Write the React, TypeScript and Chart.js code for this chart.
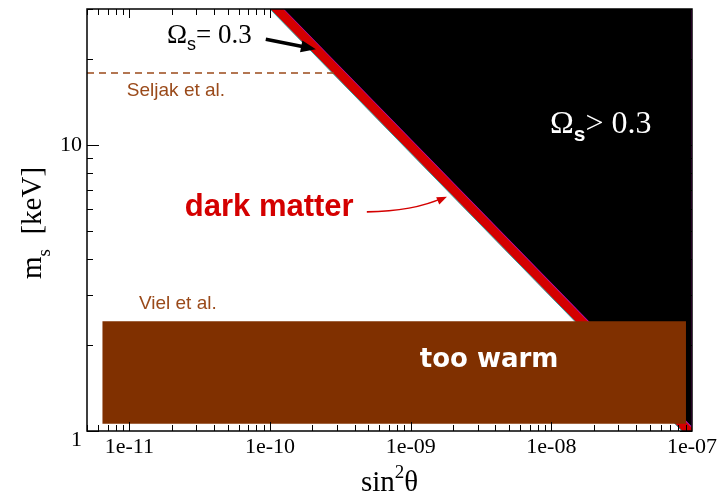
import { useEffect, useRef } from 'react';
import { Chart, registerables } from 'chart.js';

Chart.register(...registerables);

// ---- axes ----
const X_RANGE = [5e-12, 1e-7];
const Y_RANGE = [1, 30];
const X_TICKS = [1e-11, 1e-10, 1e-9, 1e-8, 1e-7];
const X_TICK_LABELS = ['1e-11', '1e-10', '1e-09', '1e-08', '1e-07'];
const Y_TICKS = [1, 10];
const Y_TICK_LABELS = ['1', '10'];
const X_MINOR_DECADES = [1e-12, 1e-11, 1e-10, 1e-9, 1e-8];
const Y_MINOR_DECADES = [1, 10];

// ---- regions (sin^2 theta, m_s) ----
// dark matter band (Omega_s = 0.3): left edge and right edge
const DM_LEFT_X = [1.0e-10, 8.5e-8];
const DM_LEFT_Y = [30, 1];
const DM_RIGHT_X = [1.24e-10, 1.05e-7];
const DM_RIGHT_Y = [30, 1];
// Omega_s > 0.3 excluded region
const OVER_X = [1.24e-10, 9.97e-8, 9.97e-8];
const OVER_Y = [30, 1.03, 30];
// "too warm" (Viel et al.)
const WARM_X = [6.44e-12, 9.06e-8, 9.06e-8, 6.44e-12];
const WARM_Y = [1.06, 1.06, 2.42, 2.42];
// Seljak et al. bound
const SELJAK_X = [5e-12, 2.89e-10];
const SELJAK_Y = [17.9, 17.9];

// ---- annotation anchors (data coords) ----
const OMEGA_EQ_AT = [1.85e-11, 22.8];
const OMEGA_GT_AT = [9.77e-9, 11.04];
const SELJAK_LABEL_AT = [9.6e-12, 14.9];
const VIEL_LABEL_AT = [1.17e-11, 2.68];
const WARM_LABEL_AT = [1.16e-9, 1.67];
const DM_LABEL_AT = [2.48e-11, 5.67];
const BLACK_ARROW = [[9.33e-11, 23.5], [2.12e-10, 21.7]];
const RED_ARROW = [[4.88e-10, 5.85], [1.04e-9, 5.87], [1.81e-9, 6.6]];

const zip = (xs: number[], ys: number[]) => xs.map((x, i) => ({ x, y: ys[i] }));

const SERIF = '"Liberation Serif", "Times New Roman", serif';
const SANS = '"Liberation Sans", Arial, sans-serif';
const BROWN_TEXT = '#9a4a1a';
const RED = '#d40000';

type Part = { text: string; font: string; color: string; dy?: number };

function richWidth(ctx: CanvasRenderingContext2D, parts: Part[]) {
  let w = 0;
  for (const p of parts) {
    ctx.font = p.font;
    w += ctx.measureText(p.text).width;
  }
  return w;
}

function drawRich(ctx: CanvasRenderingContext2D, x: number, y: number, parts: Part[]) {
  let cx = x;
  ctx.textAlign = 'left';
  ctx.textBaseline = 'alphabetic';
  for (const p of parts) {
    ctx.font = p.font;
    ctx.fillStyle = p.color;
    ctx.fillText(p.text, cx, y + (p.dy || 0));
    cx += ctx.measureText(p.text).width;
  }
}

function arrowHead(ctx: CanvasRenderingContext2D, tx: number, ty: number, fx: number, fy: number, len: number, half: number) {
  const ang = Math.atan2(ty - fy, tx - fx);
  ctx.beginPath();
  ctx.moveTo(tx, ty);
  ctx.lineTo(tx - len * Math.cos(ang) + half * Math.sin(ang), ty - len * Math.sin(ang) - half * Math.cos(ang));
  ctx.lineTo(tx - len * Math.cos(ang) - half * Math.sin(ang), ty - len * Math.sin(ang) + half * Math.cos(ang));
  ctx.closePath();
  ctx.fill();
}

const overlay = {
  id: 'overlay',
  afterDatasetsDraw(chart: any) {
    const { ctx, chartArea: a, scales } = chart;
    const xs = scales.x;
    const ys = scales.y;
    const px = (v: number) => xs.getPixelForValue(v);
    const py = (v: number) => ys.getPixelForValue(v);
    ctx.save();

    // labels
    drawRich(ctx, px(OMEGA_EQ_AT[0]), py(OMEGA_EQ_AT[1]), [
      { text: 'Ω', font: `27px ${SERIF}`, color: '#000' },
      { text: 's', font: `18px ${SANS}`, color: '#000', dy: 7 },
      { text: '= 0.3', font: `27px ${SERIF}`, color: '#000' },
    ]);
    drawRich(ctx, px(OMEGA_GT_AT[0]), py(OMEGA_GT_AT[1]), [
      { text: 'Ω', font: `32px ${SERIF}`, color: '#fff' },
      { text: 's', font: `bold 21px ${SANS}`, color: '#fff', dy: 8 },
      { text: '> 0.3', font: `32px ${SERIF}`, color: '#fff' },
    ]);
    drawRich(ctx, px(SELJAK_LABEL_AT[0]), py(SELJAK_LABEL_AT[1]), [
      { text: 'Seljak et al.', font: `19px ${SANS}`, color: BROWN_TEXT },
    ]);
    drawRich(ctx, px(VIEL_LABEL_AT[0]), py(VIEL_LABEL_AT[1]), [
      { text: 'Viel et al.', font: `19px ${SANS}`, color: BROWN_TEXT },
    ]);
    drawRich(ctx, px(WARM_LABEL_AT[0]), py(WARM_LABEL_AT[1]), [
      { text: 'too warm', font: `bold 26px "DejaVu Sans", sans-serif`, color: '#fff' },
    ]);
    drawRich(ctx, px(DM_LABEL_AT[0]), py(DM_LABEL_AT[1]), [
      { text: 'dark matter', font: `bold 31px ${SANS}`, color: RED },
    ]);

    // black arrow
    {
      const [t, h] = BLACK_ARROW;
      const x0 = px(t[0]), y0 = py(t[1]), x1 = px(h[0]), y1 = py(h[1]);
      ctx.strokeStyle = '#000';
      ctx.fillStyle = '#000';
      ctx.lineWidth = 3.5;
      const ang = Math.atan2(y1 - y0, x1 - x0);
      ctx.beginPath();
      ctx.moveTo(x0, y0);
      ctx.lineTo(x1 - 10 * Math.cos(ang), y1 - 10 * Math.sin(ang));
      ctx.stroke();
      arrowHead(ctx, x1, y1, x0, y0, 15, 6);
    }
    // red curved arrow
    {
      const [s, c, e] = RED_ARROW;
      const x0 = px(s[0]), y0 = py(s[1]);
      const cx = px(c[0]), cy = py(c[1]);
      const x1 = px(e[0]), y1 = py(e[1]);
      ctx.strokeStyle = RED;
      ctx.fillStyle = RED;
      ctx.lineWidth = 1.6;
      ctx.beginPath();
      ctx.moveTo(x0, y0);
      ctx.quadraticCurveTo(cx, cy, x1 - 4, y1 + 1);
      ctx.stroke();
      arrowHead(ctx, x1, y1, cx, cy, 10, 4);
    }

    // frame
    ctx.strokeStyle = '#000';
    ctx.lineWidth = 1.5;
    ctx.strokeRect(a.left, a.top, a.right - a.left, a.bottom - a.top);

    // inward ticks
    ctx.lineWidth = 1;
    ctx.beginPath();
    for (const d of X_MINOR_DECADES) {
      for (let m = 1; m <= 9; m++) {
        const v = d * m;
        if (v < X_RANGE[0] * 0.999 || v > X_RANGE[1] * 1.001) continue;
        const x = Math.round(px(v)) + 0.5;
        const len = m === 1 ? 9 : 6;
        ctx.moveTo(x, a.bottom);
        ctx.lineTo(x, a.bottom - len);
        ctx.moveTo(x, a.top);
        ctx.lineTo(x, a.top + len);
      }
    }
    for (const d of Y_MINOR_DECADES) {
      for (let m = 1; m <= 9; m++) {
        const v = d * m;
        if (v < Y_RANGE[0] * 0.999 || v > Y_RANGE[1] * 1.001) continue;
        const y = Math.round(py(v)) + 0.5;
        const len = m === 1 ? 12 : 6;
        ctx.moveTo(a.left, y);
        ctx.lineTo(a.left + len, y);
        ctx.moveTo(a.right, y);
        ctx.lineTo(a.right - len, y);
      }
    }
    ctx.stroke();
    ctx.restore();
  },
  afterDraw(chart: any) {
    const { ctx, chartArea: a } = chart;
    ctx.save();
    // x title
    const xParts: Part[] = [
      { text: 'sin', font: `29px ${SERIF}`, color: '#000' },
      { text: '2', font: `19px ${SERIF}`, color: '#000', dy: -13 },
      { text: 'θ', font: `29px ${SERIF}`, color: '#000' },
    ];
    const xw = richWidth(ctx, xParts);
    drawRich(ctx, (a.left + a.right) / 2 - xw / 2, 491, xParts);
    // y title
    const yParts: Part[] = [
      { text: 'm', font: `29px ${SERIF}`, color: '#000' },
      { text: 's', font: `19px ${SERIF}`, color: '#000', dy: 9 },
      { text: '  [keV]', font: `29px ${SERIF}`, color: '#000' },
    ];
    const yw = richWidth(ctx, yParts);
    ctx.translate(41, (a.top + a.bottom) / 2 + 3);
    ctx.rotate(-Math.PI / 2);
    drawRich(ctx, -yw / 2, 0, yParts);
    ctx.restore();
  },
};

export default function App() {
  const ref = useRef<HTMLCanvasElement | null>(null);
  useEffect(() => {
    document.body.style.margin = '0';
    const canvas = ref.current;
    if (!canvas) return;
    const band = [...zip(DM_LEFT_X, DM_LEFT_Y), ...zip(DM_RIGHT_X, DM_RIGHT_Y).reverse()];
    const common = { pointRadius: 0, tension: 0 };
    const chart = new Chart(canvas, {
      type: 'line',
      data: {
        datasets: [
          {
            label: 'Ωs > 0.3',
            data: zip(OVER_X, OVER_Y),
            fill: 'shape',
            backgroundColor: '#000',
            borderColor: '#b400b4',
            borderWidth: 1.2,
            order: 6,
            ...common,
          },
          {
            label: 'dark matter',
            data: band,
            fill: 'shape',
            backgroundColor: RED,
            borderColor: 'rgba(0,0,0,0)',
            borderWidth: 1,
            order: 5,
            ...common,
          },
          {
            label: 'edge',
            data: zip(DM_LEFT_X, DM_LEFT_Y),
            fill: false,
            borderColor: '#2f9f9f',
            borderWidth: 1,
            order: 4,
            ...common,
          },
          {
            label: 'too warm',
            data: zip(WARM_X, WARM_Y),
            fill: 'shape',
            backgroundColor: '#803000',
            borderColor: 'rgba(0,0,0,0)',
            borderWidth: 1,
            order: 3,
            ...common,
          },
          {
            label: 'Seljak et al.',
            data: zip(SELJAK_X, SELJAK_Y),
            fill: false,
            borderColor: BROWN_TEXT,
            borderWidth: 1.5,
            borderDash: [7, 5],
            order: 2,
            ...common,
          },
        ],
      },
      options: {
        animation: false,
        responsive: false,
        devicePixelRatio: 1,
        events: [],
        layout: { padding: { top: 9, right: 28, left: 0, bottom: 0 } },
        plugins: { legend: { display: false }, tooltip: { enabled: false } },
        scales: {
          x: {
            type: 'logarithmic',
            min: X_RANGE[0],
            max: X_RANGE[1],
            grid: { display: false, drawTicks: false, tickLength: 0 },
            border: { display: false },
            afterBuildTicks: (s: any) => {
              s.ticks = X_TICKS.map((v) => ({ value: v }));
            },
            afterFit: (s: any) => {
              s.height = 66;
              s.paddingLeft = 0;
              s.paddingRight = 0;
            },
            ticks: {
              autoSkip: false,
              maxRotation: 0,
              minRotation: 0,
              padding: 3,
              color: '#000',
              font: { family: SERIF, size: 22 },
              callback: (_v: any, i: number) => X_TICK_LABELS[i],
            },
          },
          y: {
            type: 'logarithmic',
            min: Y_RANGE[0],
            max: Y_RANGE[1],
            grid: { display: false, drawTicks: false, tickLength: 0 },
            border: { display: false },
            afterBuildTicks: (s: any) => {
              s.ticks = Y_TICKS.map((v) => ({ value: v }));
            },
            afterFit: (s: any) => {
              s.width = 87;
              s.paddingTop = 0;
              s.paddingBottom = 0;
            },
            ticks: {
              autoSkip: false,
              padding: 5,
              color: '#000',
              font: { family: SERIF, size: 22, lineHeight: 0.85 },
              callback: (_v: any, i: number) => (i === 0 ? ['', Y_TICK_LABELS[i]] : Y_TICK_LABELS[i]),
            },
          },
        },
      },
      plugins: [overlay],
    } as any);
    return () => chart.destroy();
  }, []);
  return <canvas ref={ref} width={720} height={497} style={{ display: 'block', width: 720, height: 497 }} />;
}
